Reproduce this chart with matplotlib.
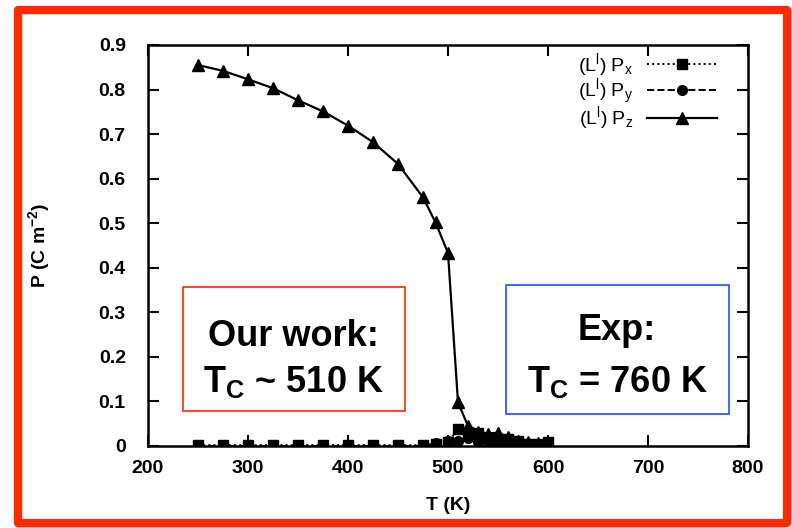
import numpy as np
import matplotlib
matplotlib.use('Agg')
import matplotlib.pyplot as plt
from matplotlib.patches import Rectangle
from matplotlib.ticker import FuncFormatter

plt.rcParams['font.family'] = ['Liberation Sans', 'DejaVu Sans']
plt.rcParams['mathtext.fontset'] = 'custom'
plt.rcParams['mathtext.rm'] = 'Liberation Sans'
plt.rcParams['mathtext.it'] = 'Liberation Sans'
plt.rcParams['mathtext.bf'] = 'Liberation Sans:bold'

# polarisation components vs temperature
T = [250, 275, 300, 325, 350, 375, 400, 425, 450, 475,
     487.5, 500, 510, 520, 530, 540, 550, 560, 570, 580, 590, 600]
Px = [0.002, 0.002, 0.002, 0.002, 0.002, 0.002, 0.002, 0.002, 0.002, 0.002,
      0.004, 0.008, 0.038, 0.032, 0.030, 0.018, 0.012, 0.016, 0.012, 0.005, 0.004, 0.008]
Py = [0.0, 0.0, 0.0, 0.0, 0.0, 0.0, 0.0, 0.0, 0.0, 0.0,
      0.006, 0.012, 0.012, 0.018, 0.010, 0.008, 0.010, 0.006, 0.010, 0.002, 0.003, 0.003]
Pz = [0.855, 0.842, 0.823, 0.803, 0.776, 0.751, 0.719, 0.682, 0.633, 0.558,
      0.502, 0.433, 0.098, 0.045, 0.032, 0.028, 0.030, 0.020, 0.012, 0.010, 0.006, 0.005]

labels = [r'(L$^{\rm l}$) P$_{\rm x}$', r'(L$^{\rm l}$) P$_{\rm y}$', r'(L$^{\rm l}$) P$_{\rm z}$']
xticks = [200, 300, 400, 500, 600, 700, 800]
yticks = [0, 0.1, 0.2, 0.3, 0.4, 0.5, 0.6, 0.7, 0.8, 0.9]

W, H = 792, 528
fig = plt.figure(figsize=(W / 100, H / 100), dpi=100)
ax = fig.add_axes([148 / W, 1 - 446 / H, 600 / W, 401 / H])


def fbox(x0, y0, x1, y1):
    # pixel box (origin top-left) -> figure fraction rectangle args
    return (x0 / W, 1 - y1 / H), (x1 - x0) / W, (y1 - y0) / H


ax.plot(T, Px, color='k', ls=':', lw=1.4, marker='s', ms=7, label=labels[0])
ax.plot(T, Py, color='k', ls='--', lw=1.4, marker='o', ms=7, label=labels[1])
ax.plot(T, Pz, color='k', ls='-', lw=1.6, marker='^', ms=8, label=labels[2])

ax.set_xlim(200, 800)
ax.set_ylim(0, 0.9)
ax.set_xticks(xticks)
ax.set_yticks(yticks)
ax.xaxis.set_major_formatter(FuncFormatter(lambda v, p: '%g' % v))
ax.yaxis.set_major_formatter(FuncFormatter(lambda v, p: '%g' % v))
ax.tick_params(direction='in', length=8, width=1.5, top=True, right=True,
               labelsize=14)
ax.tick_params(axis='y', pad=16)
ax.tick_params(axis='x', pad=10)
for lab in ax.get_xticklabels() + ax.get_yticklabels():
    lab.set_fontweight('bold')
for s in ax.spines.values():
    s.set_linewidth(1.8)

ax.set_xlabel('T (K)', fontsize=14, fontweight='bold')
ax.set_ylabel(r'P (C m$^{\mathbf{-2}}$)', fontsize=14, fontweight='bold')
ax.xaxis.set_label_coords(0.5, -(497 - 446) / 401)
ax.yaxis.set_label_coords((52 - 148) / 600, 0.5)

ax.legend(loc='upper right', bbox_to_anchor=(0.948, 0.985), frameon=False,
          markerfirst=False, fontsize=14, handlelength=3.6, labelspacing=-0.12,
          borderaxespad=0, borderpad=0, handletextpad=0.7)

# annotation boxes
fig.patches.append(Rectangle(*fbox(183, 287, 405, 411), transform=fig.transFigure,
                             fill=False, ec='#ff2a00', lw=1.2))
fig.patches.append(Rectangle(*fbox(506, 285, 729, 414), transform=fig.transFigure,
                             fill=False, ec='#1f4fff', lw=1.2))


def px(x, y):
    return x / W, 1 - y / H


fig.text(*px(293, 337), 'Our work:', fontsize=26, fontweight='bold',
         ha='center', va='center')
fig.text(*px(293, 382), r'T$_{\mathbf{C}}$ ~ 510 K', fontsize=26, fontweight='bold',
         ha='center', va='center')
fig.text(*px(617, 331), 'Exp:', fontsize=26, fontweight='bold',
         ha='center', va='center')
fig.text(*px(617, 382), r'T$_{\mathbf{C}}$ = 760 K', fontsize=26, fontweight='bold',
         ha='center', va='center')

# outer frame
fig.patches.append(Rectangle(*fbox(18, 10, 787, 523), transform=fig.transFigure,
                             fill=False, ec='#ff2a00', lw=6, joinstyle='round'))

fig.savefig('out.png', dpi=100)
